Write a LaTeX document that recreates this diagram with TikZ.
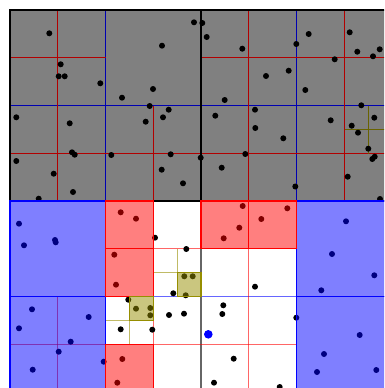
\documentclass[tikz,border=0pt]{standalone}
\usepackage{tikz}
\definecolor{mustard}{RGB}{150,142,0}
\definecolor{slab}{RGB}{128,128,128}

\begin{document}
\begin{tikzpicture}[x=1pt,y=-1pt,
  cutone/.style={draw=black,line width=1.8pt},
  cuttwo/.style={draw=blue,line width=1pt},
  cutthree/.style={draw=red,line width=1pt},
  cutfour/.style={draw=mustard,line width=1pt},
  faint/.style={draw opacity=.6},
  dim/.style={draw=#1!70!black,line width=1.2pt},
  boxone/.style={draw=black,line width=1.4pt},
  boxtwo/.style={fill=blue,fill opacity=.5,draw=blue,line width=1.4pt},
  boxthree/.style={fill=red,fill opacity=.5,draw=red,line width=1.4pt},
  boxfour/.style={fill=mustard,fill opacity=.5,draw=mustard,line width=1.4pt},
  pnt/.style={fill=black},
  query/.style={fill=blue}]
\clip (0,0) rectangle (384,388);
\fill[white] (0,0) rectangle (384,388);
\fill[slab] (10,10) rectangle (392,201);

% splits in the upper half
\draw[cuttwo,dim=blue] (105.5,10) -- (105.5,201);
\draw[cuttwo,dim=blue] (296.5,10) -- (296.5,201);
\draw[cuttwo,dim=blue] (10,105.5) -- (392,105.5);
\draw[cutthree,dim=red] (57.5,10) -- (57.5,201);
\draw[cutthree,dim=red] (10,57.5) -- (105.5,57.5);
\draw[cutthree,dim=red] (201,57.5) -- (392,57.5);
\draw[cutthree,dim=red] (10,153.5) -- (392,153.5);
\draw[cutthree,dim=red] (153.5,105.5) -- (153.5,201);
\draw[cutthree,dim=red] (248.5,10) -- (248.5,201);
\draw[cutthree,dim=red] (344.5,10) -- (344.5,201);
\draw[cutfour,dim=mustard] (368.5,105.5) -- (368.5,153.5);
\draw[cutfour,dim=mustard] (344.5,129.5) -- (392,129.5);
\draw[cutone] (201,10) -- (201,201);

% splits in the lower half
\draw[cutone,faint] (201,201) -- (201,392);
\draw[cuttwo,faint] (105.5,201) -- (105.5,392);
\draw[cuttwo,faint] (296.5,201) -- (296.5,392);
\draw[cuttwo,faint] (10,296.5) -- (392,296.5);
\draw[cutthree,faint] (57.5,296.5) -- (57.5,392);
\draw[cutthree,faint] (153.5,201) -- (153.5,392);
\draw[cutthree,faint] (248.5,201) -- (248.5,392);
\draw[cutthree,faint] (105.5,248.5) -- (296.5,248.5);
\draw[cutthree,faint] (10,344.5) -- (296.5,344.5);
\draw[cutfour,faint] (177.5,248.5) -- (177.5,296.5);
\draw[cutfour,faint] (153.5,272.5) -- (201,272.5);
\draw[cutfour,faint] (129.5,296.5) -- (129.5,344.5);
\draw[cutfour,faint] (105.5,320.5) -- (153.5,320.5);

% data points
\foreach \x/\y in {49.3/33.3, 194/22.3, 202.3/23, 162/45.7, 60.7/64.3, 58.7/76.3,
  64.7/76.3, 100.3/83.3, 153/89, 122/97.7, 149.7/106, 168.7/109.7, 163/117.3,
  145.7/121.7, 16.3/117.3, 69.7/123.3, 72/152.3, 74.7/154.7, 111.3/155,
  170.7/154.3, 200.7/157.7, 16.3/161, 53.7/173.7, 161.7/169.7, 183/183.3,
  73/192, 38.7/198.7, 206.7/37, 242.3/48.7, 308.7/34, 296.3/44, 349.7/32.3,
  357.3/51.7, 373/56.3, 379.7/49.3, 334.7/59.3, 266/76, 288.7/70.7, 305.3/90,
  224.7/100, 215.3/115.7, 255/109.7, 255.3/128, 283.3/138.3, 330.7/120.3,
  361.3/105.3, 374.3/117.7, 351.7/125.7, 358/132.7, 368.3/148.7, 374.7/156.7,
  372.3/159, 245.3/154, 221.7/167.7, 347.7/176.7, 295.3/186.5, 380/199,
  19/223.7, 24/245.3, 55/240, 55.7/242.3, 120.7/212.3, 136/218.7, 155/237.7,
  114.3/254.7, 116/284.7, 186.3/249, 184.3/276.3, 192.7/276.3, 173.3/293.3,
  185.7/295.3, 128.3/299.7, 136/308.7, 150.3/308, 150.3/315.3, 169/315,
  184/313.7, 120.7/329.3, 152.3/329.7, 32/309.3, 19/328.3, 88.7/317,
  70.7/341.7, 58.7/351.7, 103.7/361.7, 32.7/369.7, 122.3/359, 117.3/382.7,
  242.7/206, 287.3/208.3, 261.3/219, 239.3/227.7, 223.7/238.3, 346/221.3,
  332/254, 374.3/275.3, 321.3/290.3, 255/286.7, 223.3/305.3, 222.3/314,
  296.3/317.7, 359.7/335, 324/354, 317/372, 376.3/370, 233.7/358.7,
  214/382.7, 279.7/387}
  \fill[pnt] (\x,\y) circle (3pt);

% pruned cells
\draw[boxone] (10,10) rectangle (392,201);
\path[boxtwo] (10,201) rectangle (105.5,296.5);
\path[boxtwo] (10,296.5) rectangle (105.5,392);
\path[boxtwo] (296.5,201) rectangle (392,296.5);
\path[boxtwo] (296.5,296.5) rectangle (392,392);
\path[boxthree] (105.5,201) rectangle (153.5,248.5);
\path[boxthree] (105.5,248.5) rectangle (153.5,296.5);
\path[boxthree] (201,201) rectangle (248.5,248.5);
\path[boxthree] (248.5,201) rectangle (296.5,248.5);
\path[boxthree] (105.5,344.5) rectangle (153.5,392);
\path[boxfour] (177.5,272.5) rectangle (201,296.5);
\path[boxfour] (129.5,296.5) rectangle (153.5,320.5);

% query
\fill[query] (208.3,334.3) circle (4.3pt);
\end{tikzpicture}
\end{document}
